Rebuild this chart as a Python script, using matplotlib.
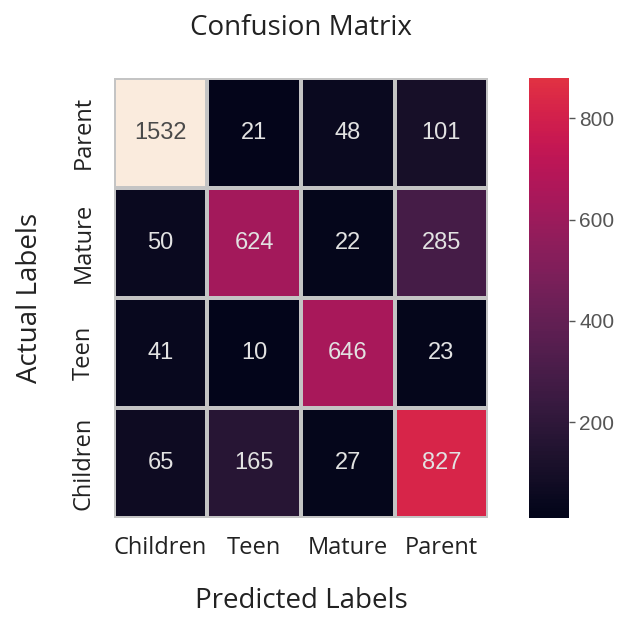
import numpy as np
import matplotlib
matplotlib.use("Agg")
import matplotlib.pyplot as plt
import matplotlib.colors as mcolors
import matplotlib.cm as cm
import seaborn as sns

# rows as shown from top to bottom, columns left to right
row_labels = ["Parent", "Mature", "Teen", "Children"]
col_labels = ["Children", "Teen", "Mature", "Parent"]
values = np.array([
    [1532, 21, 48, 101],
    [50, 624, 22, 285],
    [41, 10, 646, 23],
    [65, 165, 27, 827],
])
cbar_top = 880  # colour bar only shows up to here

vmin, vmax = values.min(), values.max()
rocket = sns.color_palette("rocket", as_cmap=True)

fig = plt.figure(figsize=(6.25, 6.17), dpi=100)
ax = fig.add_axes([0.182, 0.160, 0.599, 0.714])
cax = fig.add_axes([0.846, 0.160, 0.064, 0.714])

sns.heatmap(values, ax=ax, cbar=False, cmap=rocket, vmin=vmin, vmax=vmax,
            annot=False, linewidths=1.5, linecolor="#c4c4c4",
            xticklabels=col_labels, yticklabels=row_labels)

# annotations
for i in range(values.shape[0]):
    for j in range(values.shape[1]):
        v = values[i, j]
        frac = (v - vmin) / (vmax - vmin)
        col = "#4a4a4a" if frac > 0.8 else "#e2e2e2"
        ax.text(j + 0.5, i + 0.5, str(v), ha="center", va="center",
                fontsize=17, color=col, family="Liberation Sans")

lab_font = "Open Sans"
ax.set_xticklabels(col_labels, fontsize=17, family=lab_font, rotation=0, color="#222222")
ax.set_yticklabels(row_labels, fontsize=17, family=lab_font, rotation=90, va="center", color="#222222")
ax.tick_params(axis="x", length=0, pad=13)
ax.tick_params(axis="y", length=0, pad=13)
ax.set_xlabel("Predicted Labels", fontsize=20, family=lab_font, labelpad=19, color="#222222")
ax.set_ylabel("Actual Labels", fontsize=20, family=lab_font, labelpad=20, color="#222222")
ax.set_title("Confusion Matrix", fontsize=20, family=lab_font, pad=31, color="#222222")

# truncated colour bar (10 .. cbar_top)
top_frac = (cbar_top - vmin) / (vmax - vmin)
trunc = mcolors.ListedColormap(rocket(np.linspace(0, top_frac, 256)))
sm = cm.ScalarMappable(norm=mcolors.Normalize(vmin, cbar_top), cmap=trunc)
cb = fig.colorbar(sm, cax=cax)
cb.outline.set_visible(False)
cb.set_ticks([200, 400, 600, 800])
cax.tick_params(labelsize=15, colors="#555555", length=4, width=1)
for t in cax.get_yticklabels():
    t.set_family("Liberation Sans")

fig.savefig("out.png", dpi=100)
